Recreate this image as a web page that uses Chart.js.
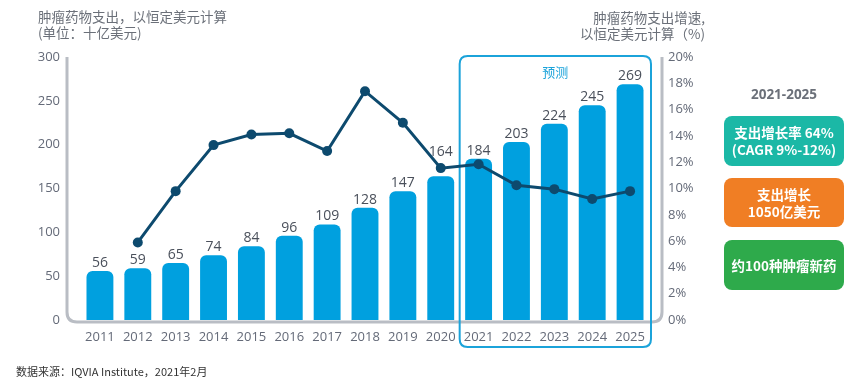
<!DOCTYPE html>
<html>
<head>
<meta charset="utf-8">
<script src="https://cdn.jsdelivr.net/npm/chart.js@4"></script>
<style>
  html,body{margin:0;padding:0;background:#fff;}
  #wrap{position:relative;width:856px;height:384px;overflow:hidden;font-family:"Noto Sans CJK SC","Noto Sans",sans-serif;}
  canvas{position:absolute;left:0;top:0;}
  .t{position:absolute;color:#6b7079;font-size:13.5px;line-height:16px;white-space:nowrap;}
  .box{position:absolute;left:724px;width:120px;border-radius:8px;color:#fff;font-size:13.5px;font-weight:bold;line-height:17px;display:flex;align-items:center;justify-content:center;text-align:center;}
</style>
</head>
<body>
<div id="wrap">
  <canvas id="c" width="856" height="384"></canvas>
  <div class="t" style="left:38px;top:8px;">肿瘤药物支出，以恒定美元计算<br>(单位：十亿美元)</div>
  <div class="t" style="right:151px;top:9px;text-align:right;">肿瘤药物支出增速,<br>以恒定美元计算（%)</div>
  <div class="t" style="left:724px;width:120px;top:86px;text-align:center;font-weight:bold;font-family:'Open Sans','Noto Sans',sans-serif;">2021-2025</div>
  <div class="box" style="top:116px;height:50px;background:#1bb8a6;">支出增长率 64%<br>(CAGR 9%-12%)</div>
  <div class="box" style="top:178px;height:49px;background:#f07e24;">支出增长<br>1050亿美元</div>
  <div class="box" style="top:240px;height:50px;background:#2eaa4b;">约100种肿瘤新药</div>
  <div class="t" style="left:16px;top:363px;font-size:11px;color:#333;">数据来源：IQVIA Institute，2021年2月</div>
</div>
<script>
const categories = ["2011","2012","2013","2014","2015","2016","2017","2018","2019","2020","2021","2022","2023","2024","2025"];
const spending = [56,59,65,74,84,96,109,128,147,164,184,203,224,245,269];
const growth = [null,5.9,9.8,13.3,14.1,14.2,12.85,17.4,15.0,11.55,11.85,10.25,9.95,9.2,9.8];
const leftTicks = [0,50,100,150,200,250,300];
const rightTicks = [0,2,4,6,8,10,12,14,16,18,20];
const forecastStart = 10;

const FONT = "'Open Sans','Noto Sans',sans-serif";

function roundedPath(ctx, x, y, w, h, r){
  ctx.beginPath();
  ctx.moveTo(x+r,y);ctx.lineTo(x+w-r,y);ctx.quadraticCurveTo(x+w,y,x+w,y+r);
  ctx.lineTo(x+w,y+h-r);ctx.quadraticCurveTo(x+w,y+h,x+w-r,y+h);
  ctx.lineTo(x+r,y+h);ctx.quadraticCurveTo(x,y+h,x,y+h-r);
  ctx.lineTo(x,y+r);ctx.quadraticCurveTo(x,y,x+r,y);ctx.closePath();
}

const framePlugin = {
  id:'frame',
  beforeDatasetsDraw(chart){
    const {ctx, chartArea:a, scales} = chart;
    ctx.save();
    const L = a.left-14, R = a.right+13, T = a.top, B = a.bottom+2, r = 10;
    ctx.strokeStyle = '#b9bdc4'; ctx.lineWidth = 3;
    ctx.beginPath();
    ctx.moveTo(L,T); ctx.lineTo(L,B-r); ctx.quadraticCurveTo(L,B,L+r,B);
    ctx.lineTo(R-r,B); ctx.quadraticCurveTo(R,B,R,B-r); ctx.lineTo(R,T);
    ctx.stroke();
    const x0 = scales.x.getPixelForValue(forecastStart-0.5);
    const x1 = a.right+2;
    ctx.strokeStyle = '#1ba3da'; ctx.lineWidth = 2;
    roundedPath(ctx, x0, a.top-1, x1-x0, 347-(a.top-1), 8);
    ctx.stroke();
    ctx.fillStyle = '#1ba3da';
    ctx.font = "13px 'Noto Sans CJK SC'";
    ctx.textAlign='center'; ctx.textBaseline='middle';
    ctx.fillText('预测', (x0+x1)/2, a.top+15);
    ctx.restore();
  },
  afterDraw(chart){
    const {ctx} = chart;
    const meta = chart.getDatasetMeta(1);
    const lineMeta = chart.getDatasetMeta(0);
    ctx.save();
    ctx.fillStyle = '#4a505b';
    ctx.font = "14px " + FONT;
    ctx.textAlign='center'; ctx.textBaseline='bottom';
    meta.data.forEach((bar,i)=>{
      let y = bar.y - 1;
      // lift a label clear of the growth line when the line crosses just above the bar
      const pt = lineMeta.data[i];
      if (pt && !pt.skip && pt.y < bar.y && pt.y > bar.y - 12 && i === forecastStart - 1) y = pt.y - 9;
      ctx.fillText(String(spending[i]), bar.x, y);
    });
    ctx.restore();
  }
};

new Chart(document.getElementById('c'), {
  data:{
    labels: categories,
    datasets:[
      {type:'line', data:growth, yAxisID:'y1', borderColor:'#0d4a6e', backgroundColor:'#0d4a6e',
       borderWidth:3, pointRadius:5, pointHoverRadius:5, pointBackgroundColor:'#0d4a6e', pointBorderWidth:0,
       tension:0, spanGaps:false, order:0},
      {type:'bar', data:spending, yAxisID:'y', backgroundColor:'#00a0df', borderRadius:6, borderSkipped:'bottom',
       barPercentage:0.71, categoryPercentage:1, order:1}
    ]
  },
  options:{
    responsive:false, animation:false,
    devicePixelRatio:1,
    layout:{padding:{top:57,left:0,right:0,bottom:0}},
    plugins:{legend:{display:false}, tooltip:{enabled:false}},
    scales:{
      x:{
        grid:{display:false, drawTicks:false}, border:{display:false},
        ticks:{color:'#646a78', font:{size:13, family:FONT}, padding:9, maxRotation:0, autoSkip:false},
        afterFit(s){ s.height = 64; }
      },
      y:{
        position:'left', min:0, max:300,
        afterBuildTicks(s){ s.ticks = leftTicks.map(v=>({value:v})); },
        grid:{display:false, drawTicks:false}, border:{display:false},
        ticks:{color:'#646a78', font:{size:13, family:FONT}, padding:21},
        afterFit(s){ s.width = 81; }
      },
      y1:{
        position:'right', min:0, max:20,
        afterBuildTicks(s){ s.ticks = rightTicks.map(v=>({value:v})); },
        grid:{display:false, drawTicks:false}, border:{display:false},
        ticks:{color:'#646a78', font:{size:13, family:FONT}, padding:19, callback:v=>v+'%'},
        afterFit(s){ s.width = 207; }
      }
    }
  },
  plugins:[framePlugin]
});
</script>
</body>
</html>
